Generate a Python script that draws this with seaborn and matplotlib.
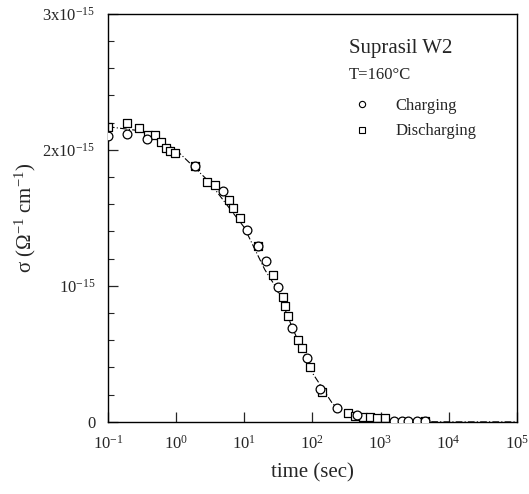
import matplotlib
matplotlib.use("Agg")
import matplotlib.pyplot as plt
import numpy as np
import pandas as pd
import seaborn as sns
from matplotlib.lines import Line2D
from matplotlib.ticker import FixedLocator, NullLocator

# charging (circles): time in s, sigma in 1e-15 ohm^-1 cm^-1
charge_t = [0.1, 0.19, 0.37, 1.9, 4.9, 11, 16, 21, 31, 51, 83, 129, 229, 447,
            1600, 2050, 2500, 3400, 4450]
charge_s = [2.10, 2.12, 2.08, 1.88, 1.70, 1.41, 1.29, 1.18, 0.99, 0.69, 0.47, 0.24,
            0.10, 0.05, 0.01, 0.01, 0.01, 0.01, 0.005]

# discharging (squares)
dis_t = [0.1, 0.19, 0.285, 0.39, 0.49, 0.60, 0.71, 0.81, 0.96, 1.9, 2.8, 3.7, 6.0,
         6.8, 8.6, 16, 26, 37, 40, 44, 61, 70, 92, 138, 331, 417, 550, 690, 890,
         1150, 4450]
dis_s = [2.17, 2.20, 2.16, 2.11, 2.11, 2.06, 2.01, 1.99, 1.98, 1.88, 1.76, 1.74, 1.63,
         1.57, 1.50, 1.29, 1.08, 0.92, 0.85, 0.78, 0.60, 0.54, 0.40, 0.22, 0.066,
         0.044, 0.037, 0.037, 0.03, 0.03, 0.005]

# fitted curve
fit_t = [0.1, 0.3, 1, 3, 10, 20, 30, 50, 100, 200, 400, 1000, 3000, 1e4, 1e5]
fit_s = [2.17, 2.14, 2.00, 1.77, 1.43, 1.12, 0.98, 0.70, 0.36, 0.13, 0.05, 0.012,
         0.002, 0.0, 0.0]

y_ticks = [0, 1, 2, 3]
y_labels = ["0", r"10$^{-15}$", r"2x10$^{-15}$", r"3x10$^{-15}$"]

charge = pd.DataFrame({"t": charge_t, "s": charge_s})
dis = pd.DataFrame({"t": dis_t, "s": dis_s})
fit = pd.DataFrame({"t": fit_t, "s": fit_s})

sns.set_style("ticks")
plt.rcParams["font.family"] = ["Liberation Serif", "DejaVu Serif"]
plt.rcParams["mathtext.fontset"] = "custom"
plt.rcParams["mathtext.rm"] = "Liberation Serif"
plt.rcParams["mathtext.it"] = "Liberation Serif:italic"

fig = plt.figure(figsize=(5.29, 4.94), dpi=100)
ax = fig.add_axes([0.204, 0.146, 0.773, 0.826])

sns.lineplot(data=fit, x="t", y="s", ax=ax, color="black", lw=0.8,
             linestyle=(0, (6, 2, 1, 2)), zorder=1)
sns.scatterplot(data=dis, x="t", y="s", ax=ax, marker="s", s=34,
                facecolor="white", edgecolor="black", linewidth=0.9, zorder=2)
sns.scatterplot(data=charge, x="t", y="s", ax=ax, marker="o", s=40,
                facecolor="white", edgecolor="black", linewidth=0.9, zorder=3)

ax.set_xscale("log")
ax.set_xlim(0.1, 1e5)
ax.set_ylim(0, 3)
ax.set_xticks([10.0 ** k for k in range(-1, 6)])
ax.set_xticklabels([rf"10$^{{{k}}}$" for k in range(-1, 6)])
ax.xaxis.set_minor_locator(NullLocator())
ax.set_yticks(y_ticks)
ax.set_yticklabels(y_labels)
ax.yaxis.set_minor_locator(FixedLocator(np.arange(0, 3.01, 0.2)))

ax.tick_params(axis="both", which="major", direction="in", length=7, width=0.9,
               labelsize=12, pad=9)
ax.tick_params(axis="y", which="minor", direction="in", length=4, width=0.8)
ax.tick_params(top=False, right=False)
for sp in ax.spines.values():
    sp.set_linewidth(1.0)
    sp.set_color("black")

ax.set_xlabel("time (sec)", fontsize=15, labelpad=8)
ax.set_ylabel(r"σ (Ω$^{-1}$ cm$^{-1}$)", fontsize=15, labelpad=3)

ax.text(0.59, 0.905, "Suprasil W2", transform=ax.transAxes, fontsize=15)
ax.text(0.59, 0.84, "T=160°C", transform=ax.transAxes, fontsize=12)

handles = [
    Line2D([], [], marker="o", ls="none", mfc="white", mec="black", ms=4.5, mew=0.8),
    Line2D([], [], marker="s", ls="none", mfc="white", mec="black", ms=4.5, mew=0.8),
]
ax.legend(handles, ["Charging", "Discharging"], loc="upper left",
          bbox_to_anchor=(0.565, 0.83), frameon=False, fontsize=12,
          handletextpad=1.5, labelspacing=0.55, handlelength=1.0)

fig.savefig("out.png", dpi=100)
